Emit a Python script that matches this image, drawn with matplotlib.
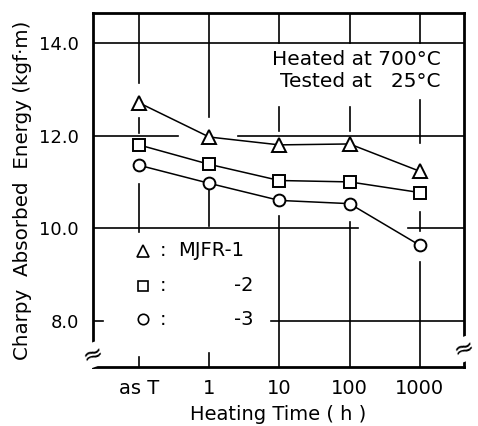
import matplotlib
matplotlib.use("Agg")
import matplotlib.pyplot as plt

plt.rcParams['font.family'] = ['DejaVu Sans']

categories = ["as T", "1", "10", "100", "1000"]
mjfr1 = [12.71, 11.97, 11.80, 11.82, 11.23]
mjfr2 = [11.80, 11.38, 11.03, 11.00, 10.77]
mjfr3 = [11.36, 10.97, 10.60, 10.53, 9.63]
yticks = [8.0, 10.0, 12.0, 14.0]
ytick_labels = ["8.0", "10.0", "12.0", "14.0"]
legend_labels = ["MJFR-1", "-2", "-3"]

FS = 14

fig = plt.figure(figsize=(4.78, 4.26), dpi=100)
ax = fig.add_axes([93/478, (426-367)/426, 371/478, 354/426])
xlo, xhi = -0.655, 4.63
ylo, yhi = 7.0, 14.65
ax.set_xlim(xlo, xhi)
ax.set_ylim(ylo, yhi)

x = list(range(len(categories)))
lw_grid = 1.2
# horizontal grid segments (with gaps as in the figure)
hseg = {14.0: [(xlo, xhi)],
        12.0: [(xlo, 0.555), (1.41, xhi)],
        10.0: [(xlo, 3.12), (3.83, xhi)],
        8.0: [(xlo, -0.51), (1.88, xhi)]}
for yv, segs in hseg.items():
    for a, b in segs:
        ax.plot([a, b], [yv, yv], color='black', lw=lw_grid, zorder=1)
vseg = [[(yhi, 13.14), (12.39, 12.06), (10.95, 9.91), (7.22, ylo)],
        [(yhi, 12.41), (10.95, 10.04), (7.3, ylo)],
        [(yhi, 14.0), (12.62, 12.09), (10.26, ylo)],
        [(yhi, 14.0), (12.62, 12.09), (10.13, ylo)],
        [(yhi, 14.0), (12.77, 11.85), (10.34, 9.94), (9.26, ylo)]]
for xi, segs in zip(x, vseg):
    for a, b in segs:
        ax.plot([xi, xi], [a, b], color='black', lw=lw_grid, zorder=1)

style = dict(color='black', lw=1.1, markerfacecolor='white',
             markeredgecolor='black', markeredgewidth=1.4, zorder=3)
ax.plot(x, mjfr1, marker='^', markersize=10, **style)
ax.plot(x, mjfr2, marker='s', markersize=8, **style)
ax.plot(x, mjfr3, marker='o', markersize=8.5, **style)

# legend (manual layout)
ly = [9.51, 8.76, 8.03]
for yy, mk, ms in zip(ly, ['^', 's', 'o'], [9, 7, 7.5]):
    ax.plot([0.06], [yy], marker=mk, markersize=ms, markerfacecolor='white',
            markeredgecolor='black', markeredgewidth=1.2, ls='none', zorder=3)
    ax.text(0.34, yy, ":", ha='center', va='center', fontsize=FS)
ax.text(0.56, ly[0], legend_labels[0], ha='left', va='center', fontsize=FS)
ax.text(1.63, ly[1], legend_labels[1], ha='right', va='center', fontsize=FS)
ax.text(1.63, ly[2], legend_labels[2], ha='right', va='center', fontsize=FS)

ax.text(4.3, 13.65, "Heated at 700°C", ha='right', va='center', fontsize=14.5)
ax.text(4.3, 13.17, "Tested at   25°C", ha='right', va='center', fontsize=14.5)

ax.set_xticks(x)
ax.set_xticklabels(categories, fontsize=FS)
ax.set_yticks(yticks)
ax.set_yticklabels(ytick_labels, fontsize=13)
ax.tick_params(axis='x', length=0, pad=9)
ax.tick_params(axis='y', length=0, pad=10)
ax.set_xlabel("Heating Time ( h )", fontsize=FS, labelpad=5)
ax.set_ylabel("Charpy  Absorbed  Energy (kgf·m)", fontsize=14.3, labelpad=5)
for s in ax.spines.values():
    s.set_linewidth(2.0)

# axis break marks
for xf, yf in [(0.0, 0.034), (1.0, 0.05)]:
    ax.text(xf, yf, "≈", transform=ax.transAxes, ha='center', va='center',
            fontsize=18, rotation=20, zorder=5,
            bbox=dict(facecolor='white', edgecolor='none', pad=0.0))

fig.savefig("out.png", dpi=100)
